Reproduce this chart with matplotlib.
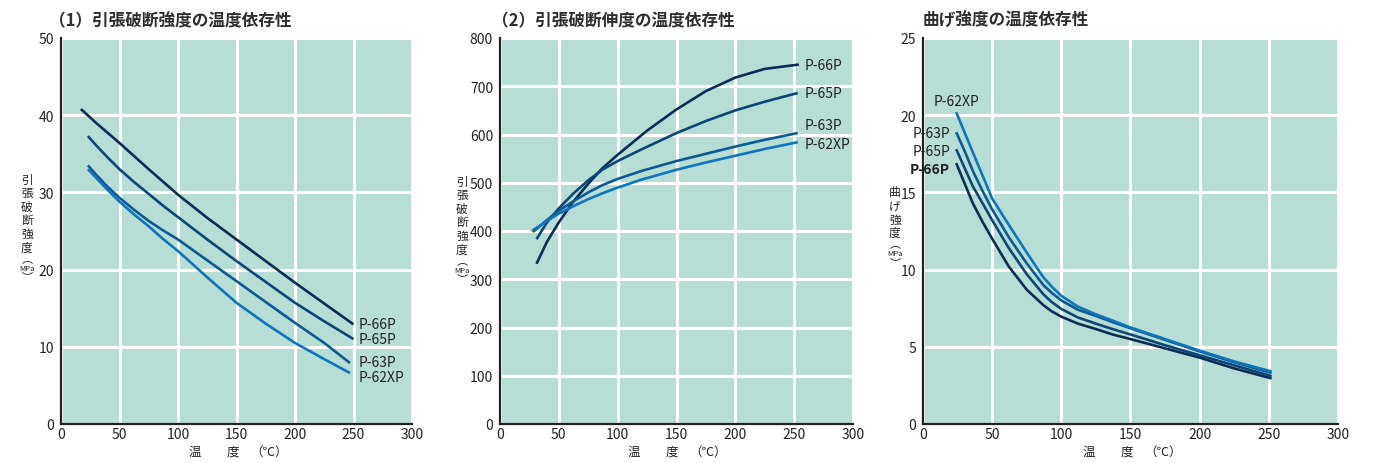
# -*- coding: utf-8 -*-
"""
温度依存性グラフ（引張破断強度・引張破断伸度・曲げ強度）
"""
import matplotlib
matplotlib.use('Agg')
import matplotlib.pyplot as plt

plt.rcParams['font.family'] = ['Noto Sans CJK JP', 'DejaVu Sans']

# ---- データ ----
grades = ['P-66P', 'P-65P', 'P-63P', 'P-62XP']
colors = ['#0b2c55', '#0c4677', '#0b5a96', '#0e74bd']

# (1) 引張破断強度 (MPa)
t1_66 = [17, 30, 50, 75, 100, 125, 150, 175, 200, 225, 250]
s1_66 = [40.8, 39.0, 36.4, 33.0, 29.7, 26.7, 23.9, 21.1, 18.3, 15.6, 12.9]
t1_65 = [23, 30, 40, 50, 62, 75, 87, 100, 125, 150, 175, 200, 225, 250]
s1_65 = [37.3, 36.1, 34.5, 33.0, 31.4, 29.8, 28.3, 26.8, 23.9, 21.1, 18.4, 15.7, 13.3, 11.0]
t1_63 = [23, 30, 40, 50, 62, 75, 87, 100, 125, 150, 175, 200, 225, 247]
s1_63 = [33.5, 32.3, 30.7, 29.3, 27.8, 26.3, 25.1, 23.9, 21.2, 18.5, 15.8, 13.1, 10.5, 7.9]
t1_62 = [23, 30, 40, 50, 62, 75, 87, 100, 125, 150, 175, 200, 225, 247]
s1_62 = [33.0, 31.9, 30.3, 28.8, 27.2, 25.6, 24.0, 22.4, 19.0, 15.7, 13.0, 10.5, 8.4, 6.6]

# (2) 引張破断伸度 (%)
t2_66 = [31, 40, 50, 62, 75, 87, 100, 125, 150, 175, 200, 225, 254]
e2_66 = [332, 378, 418, 460, 498, 530, 558, 608, 652, 690, 718, 736, 745]
t2_65 = [31, 40, 50, 62, 75, 87, 100, 121, 150, 175, 200, 225, 253]
e2_65 = [383, 418, 447, 477, 505, 527, 545, 570, 603, 628, 650, 668, 686]
t2_63 = [28, 40, 50, 62, 75, 87, 100, 121, 150, 175, 200, 225, 253]
e2_63 = [398, 423, 442, 461, 480, 495, 508, 525, 545, 560, 575, 589, 603]
t2_62 = [27, 40, 50, 62, 75, 87, 100, 121, 150, 175, 200, 225, 253]
e2_62 = [400, 421, 436, 451, 466, 478, 490, 507, 527, 542, 556, 570, 584]

# (3) 曲げ強度 (MPa)
t3 = [24, 30, 36, 43, 50, 62, 75, 87, 93, 100, 112, 125, 137, 150, 175, 200, 225, 252]
f3_66 = [16.9, 15.6, 14.3, 13.1, 12.0, 10.2, 8.7, 7.7, 7.3, 6.95, 6.5, 6.15, 5.8, 5.5, 4.9, 4.3, 3.6, 2.95]
f3_65 = [17.8, 16.6, 15.4, 14.3, 13.2, 11.4, 9.7, 8.4, 7.9, 7.45, 6.9, 6.5, 6.15, 5.8, 5.1, 4.45, 3.8, 3.1]
f3_63 = [18.9, 17.7, 16.4, 15.1, 13.9, 12.1, 10.4, 9.0, 8.5, 8.0, 7.4, 7.0, 6.6, 6.2, 5.45, 4.7, 4.0, 3.3]
f3_62 = [20.2, 18.9, 17.6, 16.1, 14.6, 12.9, 11.1, 9.5, 8.9, 8.3, 7.6, 7.1, 6.7, 6.25, 5.5, 4.75, 4.05, 3.4]

x_ticks = [0, 50, 100, 150, 200, 250, 300]

BG = '#b7ded5'
TXT = '#222222'
W, H = 1379, 464

fig = plt.figure(figsize=(W / 100, H / 100), dpi=100)


def make_ax(left_px, right_px, ylim, yticks):
    ax = fig.add_axes([left_px / W, (H - 425) / H, (right_px - left_px) / W, (425 - 39) / H])
    ax.set_facecolor(BG)
    ax.set_xlim(0, 300)
    ax.set_ylim(*ylim)
    ax.set_xticks(x_ticks)
    ax.set_yticks(yticks)
    ax.grid(True, color='white', linewidth=2.2)
    ax.set_axisbelow(True)
    for s in ['top', 'right']:
        ax.spines[s].set_visible(False)
    for s in ['left', 'bottom']:
        ax.spines[s].set_linewidth(1.6)
        ax.spines[s].set_color(TXT)
    ax.tick_params(length=0, labelsize=10, colors=TXT)
    ax.tick_params(axis='y', pad=5)
    ax.tick_params(axis='x', pad=2)
    return ax


def ylabel_stack(x_px, top_px, chars):
    # 縦書きの軸ラベル
    step = 13.6
    for i, c in enumerate(chars):
        fig.text(x_px / W, 1 - (top_px + i * step) / H, c, ha='center', va='center',
                 fontsize=8.5, color=TXT)
    y = top_px + len(chars) * step - 3
    fig.text(x_px / W, 1 - y / H, '︵', ha='center', va='center', fontsize=8, color=TXT)
    fig.text(x_px / W, 1 - (y + 10) / H, 'MPa', ha='center', va='center', fontsize=5.5,
             color=TXT)
    fig.text(x_px / W, 1 - (y + 19) / H, '︶', ha='center', va='center', fontsize=8, color=TXT)


def xlabel(center_px):
    for dx, s in [(-42, '温'), (-4, '度'), (32, '（℃）')]:
        fig.text((center_px + dx) / W, 1 - 452 / H, s, ha='center', va='center',
                 fontsize=9, color=TXT)


def title(x_px, s):
    fig.text(x_px / W, 1 - 21 / H, s, ha='left', va='center', fontsize=12,
             fontweight='bold', color='#2e2e2e')


# ---- (1) 引張破断強度 ----
ax1 = make_ax(61, 412, (0, 50), [0, 10, 20, 30, 40, 50])
for t, s, c in zip([t1_66, t1_65, t1_63, t1_62], [s1_66, s1_65, s1_63, s1_62], colors):
    ax1.plot(t, s, color=c, linewidth=1.9, solid_capstyle='butt')
for g, y in zip(grades, [12.9, 11.0, 8.0, 6.1]):
    ax1.text(254, y, g, fontsize=10, va='center', ha='left', color=TXT)
title(49, '（1）引張破断強度の温度依存性')
ylabel_stack(27, 180, '引張破断強度')
xlabel(237)

# ---- (2) 引張破断伸度 ----
ax2 = make_ax(500, 853, (0, 800), [0, 100, 200, 300, 400, 500, 600, 700, 800])
for t, e, c in zip([t2_66, t2_65, t2_63, t2_62], [e2_66, e2_65, e2_63, e2_62], colors):
    ax2.plot(t, e, color=c, linewidth=1.9, solid_capstyle='butt')
for g, y in zip(grades, [744, 685, 619, 580]):
    ax2.text(259, y, g, fontsize=10, va='center', ha='left', color=TXT)
title(492, '（2）引張破断伸度の温度依存性')
ylabel_stack(462, 182, '引張破断強度')
xlabel(676)

# ---- (3) 曲げ強度 ----
ax3 = make_ax(923, 1338, (0, 25), [0, 5, 10, 15, 20, 25])
for f, c in zip([f3_66, f3_65, f3_63, f3_62], colors):
    ax3.plot(t3, f, color=c, linewidth=1.9, solid_capstyle='butt')
ax3.text(7.6, 20.9, 'P-62XP', fontsize=10, va='center', ha='left', color=TXT)
for g, y in zip(['P-63P', 'P-65P', 'P-66P'], [18.85, 17.7, 16.5]):
    ax3.text(19.6, y, g, fontsize=10, va='center', ha='right', color=TXT,
             fontweight='bold' if g == 'P-66P' else 'normal')
title(923, '曲げ強度の温度依存性')
ylabel_stack(895, 193, '曲げ強度')
xlabel(1131)

fig.savefig('out.png', dpi=100)
